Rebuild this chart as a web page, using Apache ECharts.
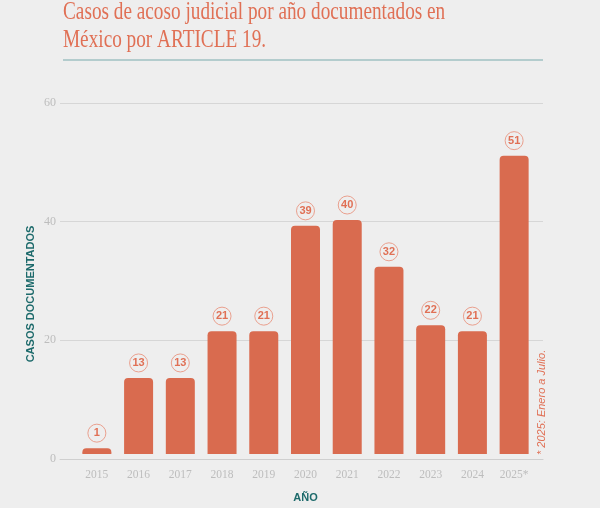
<!DOCTYPE html>
<html>
<head>
<meta charset="utf-8">
<script src="https://cdn.jsdelivr.net/npm/echarts@6/dist/echarts.min.js"></script>
<style>
html,body{margin:0;padding:0;background:#eeeeee;}
#c{width:600px;height:508px;}
</style>
</head>
<body>
<div id="c"></div>
<script>
var categories = ['2015','2016','2017','2018','2019','2020','2021','2022','2023','2024','2025*'];
var casos = [1,13,13,21,21,39,40,32,22,21,51];
var yTicks = [0,20,40,60];

var chart = echarts.init(document.getElementById('c'));
var orange = '#d96b4f';
var textOrange = '#e07055';
var teal = '#1d6a6b';
var gray = '#bdbdbd';

chart.setOption({
  backgroundColor: '#eeeeee',
  animation: false,
  graphic: [
    {type: 'text', x: 63, y: -2, scaleX: 0.77, scaleY: 1,
     style: {text: 'Casos de acoso judicial por año documentados en\nMéxico por ARTICLE 19.', fill: textOrange,
             font: '25px "Liberation Serif"', lineHeight: 28, textAlign: 'left', textVerticalAlign: 'top'}},
    {type: 'line', shape: {x1: 63, y1: 60, x2: 543, y2: 60}, style: {stroke: '#9fc0c2', lineWidth: 1.5}},
    {type: 'text', x: 547, y: 455, rotation: Math.PI / 2,
     style: {text: '* 2025: Enero a Julio.', fill: textOrange, font: 'italic 11px "Liberation Sans"', textAlign: 'left', textVerticalAlign: 'bottom'}},
    {type: 'text', x: 31, y: 294, rotation: Math.PI / 2,
     style: {text: 'CASOS DOCUMENTADOS', fill: teal, font: 'bold 11px "Liberation Sans"', textAlign: 'center', textVerticalAlign: 'middle'}}
  ],
  grid: [
    {left: 60, right: 57, top: 103, bottom: 49},
    {left: 76, right: 65, top: 103, bottom: 49}
  ],
  xAxis: [
    {gridIndex: 0, type: 'value', min: 0, max: 1, axisLabel: {show: false}, axisTick: {show: false}, splitLine: {show: false},
     axisLine: {show: true, lineStyle: {color: '#cfcfcf', width: 1}}},
    {gridIndex: 1, type: 'category', data: categories, axisLine: {show: false}, axisTick: {show: false},
     axisLabel: {color: gray, fontFamily: 'Liberation Serif', fontSize: 11.5, margin: 15},
     name: 'AÑO', nameLocation: 'middle', nameGap: 38,
     nameTextStyle: {color: teal, fontWeight: 'bold', fontSize: 11, fontFamily: 'Liberation Sans'}}
  ],
  yAxis: [
    {gridIndex: 0, type: 'value', min: 0, max: 60, interval: 20,
     axisLine: {show: false}, axisTick: {show: false},
     axisLabel: {color: gray, fontFamily: 'Liberation Serif', fontSize: 12, margin: 4,
                 formatter: function (v) { return yTicks.indexOf(v) >= 0 ? String(v) : ''; }},
     splitLine: {lineStyle: {color: '#d6d6d6', width: 1}}},
    {gridIndex: 1, type: 'value', min: 0, max: 60, interval: 20, show: false, splitLine: {show: false}}
  ],
  series: [{
    type: 'bar', xAxisIndex: 1, yAxisIndex: 1,
    data: casos, barWidth: 29,
    itemStyle: {color: orange, borderRadius: [4, 4, 0, 0]},
    label: {
      show: true, position: 'top', distance: 6,
      color: textOrange, fontFamily: 'Liberation Sans', fontWeight: 'bold', fontSize: 11,
      width: 18, height: 18, lineHeight: 18, align: 'center',
      borderColor: '#eaa08e', borderWidth: 1, borderRadius: 9
    }
  }]
});
</script>
</body>
</html>
